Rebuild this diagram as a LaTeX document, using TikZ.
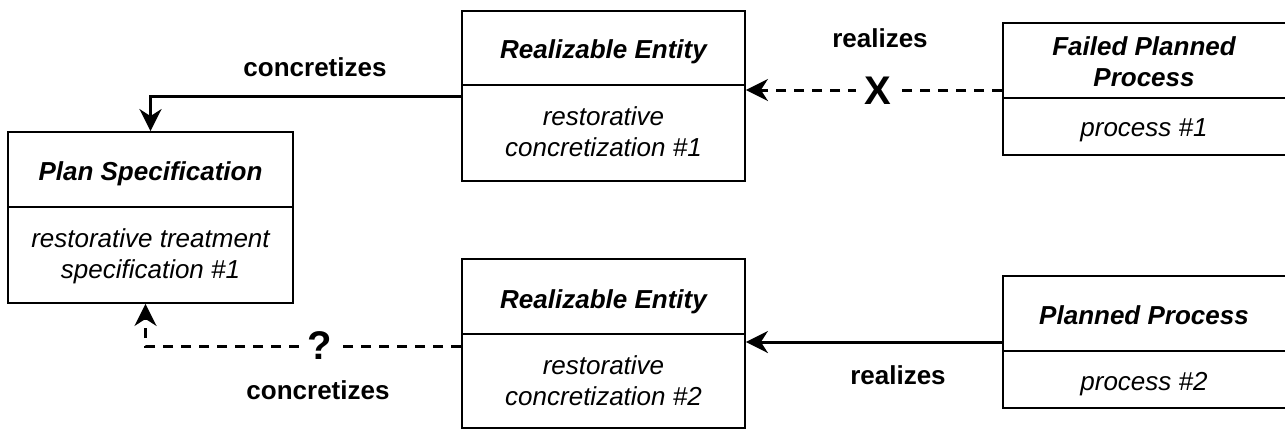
\documentclass[tikz,border=0pt]{standalone}
\usepackage{fontspec}
\setmainfont{Liberation Sans}
\usetikzlibrary{arrows.meta,calc}
\begin{document}
\begin{tikzpicture}[x=1pt,y=-1pt,
  box/.style={draw, line width=1.8pt, rectangle, inner sep=0pt},
  divider/.style={line width=1.8pt},
  hdr/.style={font=\fontsize{26}{31}\selectfont\bfseries\itshape, align=center, inner sep=0pt},
  bdy/.style={font=\fontsize{26}{31}\selectfont\itshape, align=center, inner sep=0pt},
  lbl/.style={font=\fontsize{26}{31}\selectfont\bfseries, inner sep=0pt},
  signlbl/.style={font=\fontsize{40}{44}\selectfont\bfseries, fill=white, inner xsep=9pt, inner ysep=2pt},
  conn/.style={line width=3pt, -{Stealth[length=22pt,width=22pt,inset=7pt]}},
  dsh/.style={conn, dash pattern=on 10pt off 8pt}
]
\useasboundingbox (0,0) rectangle (1285,429);

% Plan Specification
\node[box, minimum width=285, minimum height=171] (ps) at (150.5,217.5) {};
\draw[divider] ($(ps.north west)+(0,76)$) -- ($(ps.north east)+(0,76)$);
\node[hdr] (psh) at ($(ps.north)+(0,43)$) {Plan Specification};
\node[bdy] (psb) at ($(ps.north)+(0,125)$) {restorative treatment\\specification \#1};

% Realizable Entity 1
\node[box, minimum width=283, minimum height=170] (re1) at (603.5,96) {};
\draw[divider] ($(re1.north west)+(0,75)$) -- ($(re1.north east)+(0,75)$);
\node[hdr] (re1h) at ($(re1.north)+(0,42)$) {Realizable Entity};
\node[bdy] (re1b) at ($(re1.north)+(0,122)$) {restorative\\concretization \#1};

% Failed Planned Process
\node[box, minimum width=286, minimum height=132] (fpp) at (1146,89) {};
\draw[divider] ($(fpp.north west)+(0,76)$) -- ($(fpp.north east)+(0,76)$);
\node[hdr] (fpph) at ($(fpp.north)+(-2,40)$) {Failed Planned\\Process};
\node[bdy] (fppb) at ($(fpp.north)+(-2,108)$) {process \#1};

% Realizable Entity 2
\node[box, minimum width=283, minimum height=169] (re2) at (603.5,343.5) {};
\draw[divider] ($(re2.north west)+(0,76)$) -- ($(re2.north east)+(0,76)$);
\node[hdr] (re2h) at ($(re2.north)+(0,44)$) {Realizable Entity};
\node[bdy] (re2b) at ($(re2.north)+(0,123)$) {restorative\\concretization \#2};

% Planned Process
\node[box, minimum width=286, minimum height=132] (pp) at (1146,342) {};
\draw[divider] ($(pp.north west)+(0,76)$) -- ($(pp.north east)+(0,76)$);
\node[hdr] (pph) at ($(pp.north)+(-2,40)$) {Planned Process};
\node[bdy] (ppb) at ($(pp.north)+(-2,109)$) {process \#2};

% concretizes (top)
\draw[conn] (re1.west) -| (ps.north);
\node[lbl] (l1) at (315,67) {concretizes};

% realizes (top, failed)
\draw[dsh] ([yshift=-1pt]fpp.west) -- ([yshift=-1pt]fpp.west -| re1.east);
\node[signlbl] (xm) at (878,91) {X};
\node[lbl] (l2) at (880,38) {realizes};

% realizes (bottom)
\draw[conn] (pp.west) -- (pp.west -| re2.east);
\node[lbl] (l3) at (898,375) {realizes};

% concretizes (bottom, uncertain)
\draw[dsh] ([yshift=-3pt]re2.west) -| ([xshift=-5pt]ps.south);
\node[signlbl] (qm) at (320,346) {?};
\node[lbl] (l4) at (318,390) {concretizes};
\end{tikzpicture}
\end{document}
